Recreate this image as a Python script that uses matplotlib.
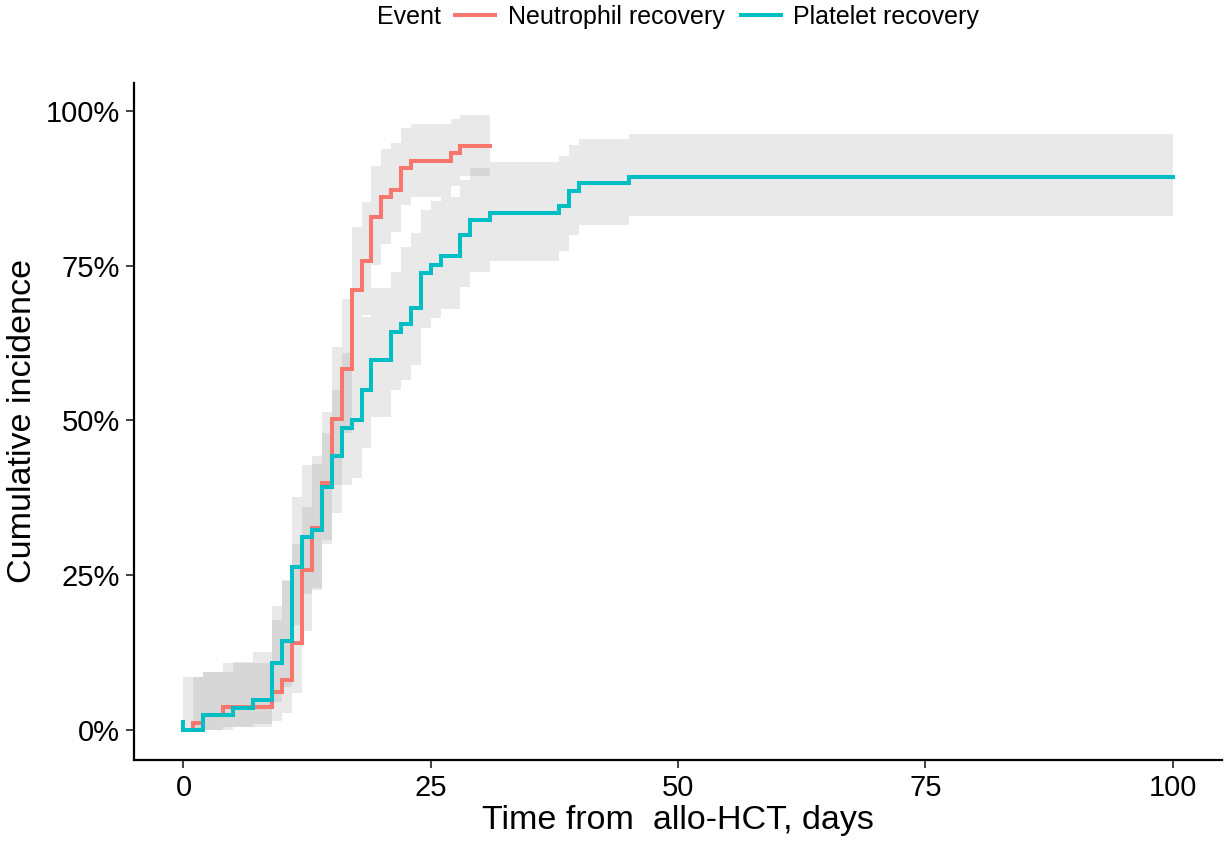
import matplotlib
matplotlib.use("Agg")
import matplotlib.pyplot as plt
from matplotlib.lines import Line2D
import numpy as np

plt.rcParams['font.family'] = ['Liberation Sans', 'DejaVu Sans']

# Cumulative incidence of neutrophil recovery (step start day, estimate %, 95% CI)
neu_days = [0, 1, 2, 4, 9, 10, 11, 12, 13, 14, 15, 16, 17, 18, 19, 20, 21, 22, 23, 27, 28]
neu_est = [0, 1.2, 2.4, 3.7, 6.2, 8.1, 14.0, 25.8, 32.6, 39.9, 50.2, 58.3, 71.0, 75.7,
           82.8, 86.1, 87.2, 90.8, 91.9, 93.2, 94.3]
neu_low = [0, 0, 0, 0.5, 1.5, 2.7, 6.0, 16.0, 22.6, 30.0, 39.6, 48.0, 62.2, 67.0,
           75.1, 78.5, 80.5, 84.8, 86.1, 87.9, 89.5]
neu_high = [0, 8.5, 9.4, 10.8, 20.0, 24.2, 30.0, 36.0, 43.0, 51.4, 61.9, 69.7, 81.3, 85.3,
            91.1, 93.8, 94.8, 97.2, 97.9, 98.7, 99.4]
neu_end = 31

# Cumulative incidence of platelet recovery
plt_days = [0, 0, 2, 5, 7, 9, 10, 11, 12, 13, 14, 15, 16, 17, 18, 19, 21, 22, 23, 24, 25,
            26, 28, 29, 31, 38, 39, 40, 45]
plt_est = [1.3, 0, 2.4, 3.6, 4.8, 10.8, 14.4, 26.4, 31.2, 32.3, 39.3, 44.3, 48.8, 50.1,
           54.9, 59.8, 64.3, 65.6, 68.1, 73.8, 75.1, 76.5, 80.0, 82.4, 83.5, 84.7, 87.0,
           88.3, 89.4]
plt_low = [0, 0, 0, 0.5, 1.0, 4.5, 7.0, 17.0, 22.0, 23.0, 30.7, 35.0, 39.6, 40.7, 45.5,
           50.5, 55.0, 56.5, 59.0, 65.0, 66.5, 68.0, 71.5, 74.0, 75.8, 77.3, 80.0, 81.6, 83.0]
plt_high = [8.6, 8.6, 9.4, 11.0, 12.6, 17.8, 24.0, 37.7, 42.8, 44.2, 48.0, 55.0, 60.9,
            62.2, 66.7, 71.4, 74.0, 78.0, 80.3, 84.0, 85.5, 86.1, 88.9, 90.8, 91.8, 92.7,
            94.5, 95.4, 96.3]
plt_end = 100

series = [
    ("Neutrophil recovery", "#F8766D", neu_days, neu_est, neu_low, neu_high, neu_end),
    ("Platelet recovery", "#00BFC4", plt_days, plt_est, plt_low, plt_high, plt_end),
]

fig = plt.figure(figsize=(12.25, 8.42), dpi=100)
ax = fig.add_axes([0.1094, 0.0974, 0.8882, 0.8044])

# confidence bands first, then curves on top
for name, color, d, e, lo, hi, end in series:
    x = list(d) + [end]
    ax.fill_between(x, list(lo) + [lo[-1]], list(hi) + [hi[-1]], step='post',
                    facecolor='grey', alpha=0.17, linewidth=0)

handles = []
for name, color, d, e, lo, hi, end in series:
    x = list(d) + [end]
    y = list(e) + [e[-1]]
    ax.step(x, y, where='post', color=color, lw=2.9, solid_joinstyle='miter')
    handles.append(Line2D([], [], color=color, lw=2.9))

ax.set_xlim(-5, 105)
ax.set_ylim(-4.85, 104.57)
ax.set_xticks([0, 25, 50, 75, 100])
ax.set_yticks([0, 25, 50, 75, 100])
ax.set_yticklabels([f"{v}%" for v in [0, 25, 50, 75, 100]])
ax.tick_params(axis='both', labelsize=21, length=6, width=1.3, color='#333333',
               labelcolor='black', pad=4)
for s in ['top', 'right']:
    ax.spines[s].set_visible(False)
for s in ['left', 'bottom']:
    ax.spines[s].set_linewidth(1.6)
    ax.spines[s].set_color('black')

ax.set_xlabel("Time from  allo-HCT, days", fontsize=24.5, labelpad=2)
ax.set_ylabel("Cumulative incidence", fontsize=24.5, labelpad=6)

fig.text(377 / 1225, 1 - 17 / 842, "Event", fontsize=18, ha='left', va='center')
fig.legend(handles, [s[0] for s in series], loc='center', ncol=2,
           bbox_to_anchor=(717 / 1225, 1 - 17 / 842), frameon=False, fontsize=18,
           handlelength=1.6, handletextpad=0.5, columnspacing=0.65, borderpad=0,
           borderaxespad=0)

fig.savefig("out.png", dpi=100)
